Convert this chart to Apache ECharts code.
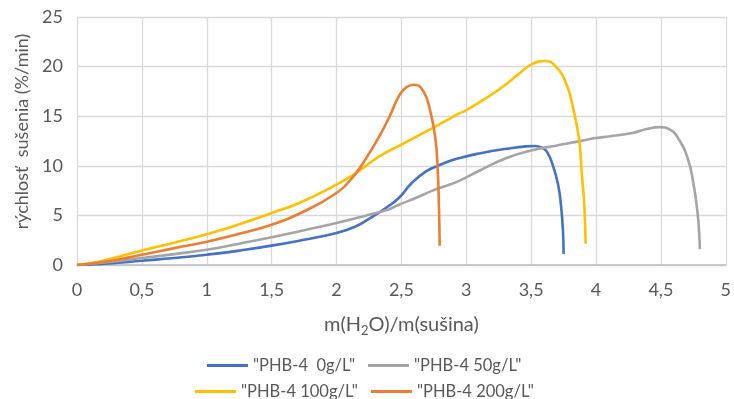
<!DOCTYPE html>
<html>
<head>
<meta charset="utf-8">
<script src="https://cdn.jsdelivr.net/npm/echarts@6/dist/echarts.min.js"></script>
<style>
  html, body { margin: 0; padding: 0; background: #ffffff; }
  #chart { width: 734px; height: 399px; }
</style>
</head>
<body>
<div id="chart"></div>
<script>
// Drying-rate curves: [moisture ratio m(H2O)/m(dry), drying rate %/min]
const seriesNames = ['"PHB-4  0g/L"', '"PHB-4 50g/L"', '"PHB-4 100g/L"', '"PHB-4 200g/L"'];

const phb0 = [
  [0, 0], [0.25, 0.15], [0.5, 0.43], [0.75, 0.7], [1, 1.04], [1.25, 1.45], [1.5, 1.95],
  [1.75, 2.55], [2, 3.22], [2.15, 3.9], [2.25, 4.65], [2.38, 5.75], [2.48, 6.75],
  [2.58, 8.27], [2.69, 9.44], [2.79, 10.05], [2.9, 10.6], [3.0, 10.95], [3.1, 11.25],
  [3.18, 11.45], [3.31, 11.72], [3.46, 11.96], [3.53, 12.0], [3.58, 11.85], [3.62, 11.45],
  [3.67, 9.94], [3.71, 7.93], [3.73, 6.0], [3.745, 3.5], [3.75, 1.1]
];

const phb50 = [
  [0, 0], [0.25, 0.3], [0.5, 0.7], [0.75, 1.1], [1, 1.54], [1.25, 2.15], [1.5, 2.8],
  [1.75, 3.5], [2, 4.23], [2.23, 5.0], [2.4, 5.6], [2.48, 6.08], [2.61, 6.75], [2.74, 7.5],
  [2.85, 8.0], [2.95, 8.5], [3.1, 9.5], [3.31, 10.78], [3.5, 11.55], [3.69, 12.03],
  [3.87, 12.46], [4.0, 12.8], [4.1, 12.96], [4.28, 13.3], [4.39, 13.7], [4.49, 13.9],
  [4.57, 13.64], [4.64, 12.63], [4.71, 10.6], [4.75, 8.27], [4.78, 5.57], [4.795, 3.2], [4.8, 1.6]
];

const phb100 = [
  [0, 0], [0.175, 0.36], [0.5, 1.47], [0.75, 2.25], [1, 3.1], [1.25, 4.1], [1.5, 5.24],
  [1.713, 6.25], [2, 8.1], [2.15, 9.27], [2.33, 10.95], [2.5, 12.13], [2.74, 13.8],
  [2.95, 15.3], [3.0, 15.6], [3.25, 17.67], [3.4, 19.2], [3.5, 20.2], [3.61, 20.56],
  [3.69, 20.0], [3.77, 18.3], [3.82, 16.0], [3.87, 12.6], [3.89, 9.27], [3.91, 5.9], [3.92, 2.15]
];

const phb200 = [
  [0, 0], [0.25, 0.4], [0.5, 1.04], [0.75, 1.7], [1, 2.35], [1.25, 3.15], [1.5, 4.06],
  [1.713, 5.17], [2, 7.26], [2.13, 8.93], [2.23, 10.8], [2.33, 12.97], [2.41, 15.0],
  [2.48, 17.0], [2.54, 17.94], [2.6, 18.17], [2.67, 17.5], [2.72, 15.65], [2.76, 12.97],
  [2.78, 9.6], [2.79, 5.57], [2.795, 1.95]
];

const seriesData = [phb0, phb50, phb100, phb200];
const colors = ['#4472C4', '#A5A5A5', '#FFC000', '#ED7D31'];

const FONT = 'Lato';
const TEXT_COLOR = '#595959';

const chart = echarts.init(document.getElementById('chart'), null, { renderer: 'canvas' });

const legendBase = {
  orient: 'horizontal',
  icon: 'rect',
  itemWidth: 41,
  itemHeight: 3,
  itemGap: 13,
  textStyle: { fontFamily: FONT, fontSize: 16.5, color: TEXT_COLOR }
};

chart.setOption({
  animation: false,
  backgroundColor: '#ffffff',
  color: colors,
  grid: { left: 77, top: 17, right: 7, bottom: 134, containLabel: false },
  legend: [
    Object.assign({}, legendBase, { left: 202, top: 352, data: [seriesNames[0], seriesNames[1]] }),
    Object.assign({}, legendBase, { left: 190, top: 378, data: [seriesNames[2], seriesNames[3]] })
  ],
  xAxis: {
    type: 'value',
    min: 0,
    max: 5,
    interval: 0.5,
    name: 'm(H{sub|2}O)/m(sušina)',
    nameLocation: 'middle',
    nameGap: 48,
    nameTextStyle: {
      fontFamily: FONT, fontSize: 20, color: TEXT_COLOR, lineHeight: 24,
      rich: { sub: { fontFamily: FONT, fontSize: 13, color: TEXT_COLOR, lineHeight: 24, verticalAlign: 'bottom' } }
    },
    axisLine: { show: true, lineStyle: { color: '#bfbfbf', width: 1.5 } },
    axisTick: { show: false },
    axisLabel: {
      margin: 16, fontFamily: FONT, fontSize: 18, color: TEXT_COLOR,
      formatter: v => String(v).replace('.', ',')
    },
    splitLine: { show: true, lineStyle: { color: '#d9d9d9', width: 1.3 } }
  },
  yAxis: {
    type: 'value',
    min: 0,
    max: 25,
    interval: 5,
    name: 'rýchlosť  sušenia (%/min)',
    nameLocation: 'middle',
    nameGap: 46,
    nameTextStyle: { fontFamily: FONT, fontSize: 18, color: TEXT_COLOR, padding: [0, 0, 0, 19] },
    axisLine: { show: false },
    axisTick: { show: false },
    axisLabel: { margin: 14, fontFamily: FONT, fontSize: 18, color: TEXT_COLOR },
    splitLine: { show: true, lineStyle: { color: '#d9d9d9', width: 1.3 } }
  },
  series: seriesNames.map((name, i) => ({
    name: name,
    type: 'line',
    data: seriesData[i],
    symbol: 'none',
    smooth: 0.5,
    lineStyle: { width: 2.6, color: colors[i] },
    itemStyle: { color: colors[i] }
  }))
});
</script>
</body>
</html>
